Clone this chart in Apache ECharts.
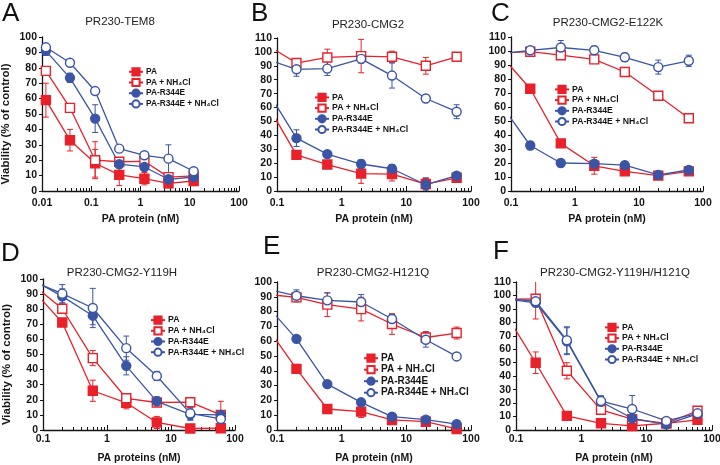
<!DOCTYPE html>
<html><head><meta charset="utf-8">
<script src="https://cdn.jsdelivr.net/npm/echarts@6/dist/echarts.min.js"></script>
<style>html,body{margin:0;padding:0;background:#fff}#c{width:720px;height:465px}</style>
</head><body><div id="c"></div>
<script>
const FONT = '"Liberation Sans", Arial, sans-serif';
const RED = '#E8212B', BLUE = '#3A55A5', INK = '#151515';

// ---- labels ----
const seriesNames = ['PA', 'PA + NH₄Cl', 'PA-R344E', 'PA-R344E + NH₄Cl'];
const panelLetters = ['A', 'B', 'C', 'D', 'E', 'F'];
const panelTitles = ['PR230-TEM8', 'PR230-CMG2', 'PR230-CMG2-E122K', 'PR230-CMG2-Y119H', 'PR230-CMG2-H121Q', 'PR230-CMG2-Y119H/H121Q'];
const xAxisNames = ['PA protein (nM)', 'PA protein (nM)', 'PA protein (nM)', 'PA proteins (nM)', 'PA protein (nM)', 'PA protein (nM)'];
const yAxisName = 'Viability (% of control)';
const xMins = [0.01, 0.1, 0.1, 0.1, 0.1, 0.1];
const xMax = 100;
const yMaxes = [100, 110, 110, 100, 100, 110];
const minorTickValues = [0.02,0.03,0.04,0.05,0.06,0.07,0.08,0.09,0.2,0.3,0.4,0.5,0.6,0.7,0.8,0.9,2,3,4,5,6,7,8,9,20,30,40,50,60,70,80,90];

// ---- concentrations (nM) ----
const concA = [0.012, 0.037, 0.12, 0.37, 1.2, 3.7, 12];
const concBF = [0.067, 0.2, 0.6, 2, 6, 20, 60];

// ---- A: PR230-TEM8 ----
const A_PA = [59, 33, 18, 10.5, 8, 5, 6.5];            const A_PA_err = [11, 7, 9, 7, 4, 3, 3];
const A_PANH = [78, 54, 20, 19, 19.3, 9, 9.8];          const A_PANH_err = [2, 2, 12, 2, 2, 2, 1];
const A_R = [91, 73.5, 47, 17.4, 15.6, 7.6, 9.1];       const A_R_err = [3, 3, 9, 2, 2, 2, 2];
const A_RNH = [93.3, 83.3, 64.9, 27.5, 23.2, 21, 12.8]; const A_RNH_err = [1, 1, 1, 2, 1, 9, 1];
// ---- B: PR230-CMG2 ----
const B_PA = [64, 26, 19, 12.5, 12.2, 5, 9.5];          const B_PA_err = [0, 3, 2, 7, 5, 4, 1];
const B_PANH = [105.5, 92, 96, 97, 96.5, 90, 96.5];     const B_PANH_err = [0, 3, 6, 12, 4, 6, 2];
const B_R = [73.7, 38, 26.5, 19.4, 16, 4.5, 11];        const B_R_err = [0, 6, 2, 3, 3, 5, 1];
const B_RNH = [95, 87.5, 88, 95, 83, 66.5, 57];         const B_RNH_err = [0, 5, 5, 3, 9, 2, 5];
// ---- C: PR230-CMG2-E122K ----
const C_PA = [97.7, 73, 34, 18, 14, 11, 14];            const C_PA_err = [0, 2, 1, 6, 2, 1, 1];
const C_PANH = [98.5, 99.5, 97, 94, 85, 68, 52];        const C_PANH_err = [0, 1, 1, 2, 1, 2, 1];
const C_R = [63, 32.5, 20, 19.5, 18.5, 11.5, 15];       const C_R_err = [0, 3, 2, 2, 2, 1, 1];
const C_RNH = [98, 100.5, 102.5, 100.5, 95.5, 88.5, 93]; const C_RNH_err = [0, 2, 5, 3, 3, 5, 4];
// ---- D: PR230-CMG2-Y119H ----
const D_PA = [93.4, 71.2, 26, 18, 5, 1, 1.2];           const D_PA_err = [0, 2, 7, 4, 4, 0.5, 1];
const D_PANH = [96.8, 80.3, 47.6, 21, 18.2, 18.4, 10];  const D_PANH_err = [0, 2, 5, 1, 2, 1, 9];
const D_R = [99.7, 88.5, 75.7, 42.5, 19, 10.4, 10];     const D_R_err = [0, 5, 6, 6, 3, 4, 2];
const D_RNH = [98.7, 90.3, 80.8, 54.2, 35.8, 11, 7.3];  const D_RNH_err = [0, 6, 13, 8, 3, 4, 3];
// ---- E: PR230-CMG2-H121Q ----
const E_PA = [70.7, 41.3, 14.2, 12.4, 6.8, 5.6, 0.7];   const E_PA_err = [0, 3, 1, 4, 1, 1, 1];
const E_PANH = [91.8, 89.6, 84.7, 81.7, 71.6, 62.5, 65.5]; const E_PANH_err = [0, 3, 8, 8, 7, 4, 4];
const E_R = [84.9, 61.6, 31, 18.7, 9, 7, 4];            const E_R_err = [0, 1, 1, 1, 1, 1, 2];
const E_RNH = [95.4, 90.7, 87.6, 86.5, 75, 61, 49.7];   const E_RNH_err = [0, 4, 5, 5, 3, 5, 1];
// ---- F: PR230-CMG2-Y119H/H121Q ----
const F_PA = [87.6, 50, 10.5, 5, 3, 5, 7.5];            const F_PA_err = [0, 8, 3, 1, 1, 1, 1];
const F_PANH = [97, 97.5, 44, 15, 8, 5, 14.3];          const F_PANH_err = [0, 15, 6, 1, 1, 1, 2];
const F_R = [97.5, 94.5, 66, 21, 8.7, 4.2, 12];         const F_R_err = [0, 1, 10, 4, 1, 1, 1];
const F_RNH = [97.7, 95.7, 66.7, 21.5, 15.6, 6.7, 12.4]; const F_RNH_err = [0, 1, 10, 4, 10, 1, 1];

const panels = [
  { conc: concA,  sets: [[A_PA, A_PA_err], [A_PANH, A_PANH_err], [A_R, A_R_err], [A_RNH, A_RNH_err]] },
  { conc: concBF, sets: [[B_PA, B_PA_err], [B_PANH, B_PANH_err], [B_R, B_R_err], [B_RNH, B_RNH_err]] },
  { conc: concBF, sets: [[C_PA, C_PA_err], [C_PANH, C_PANH_err], [C_R, C_R_err], [C_RNH, C_RNH_err]] },
  { conc: concBF, sets: [[D_PA, D_PA_err], [D_PANH, D_PANH_err], [D_R, D_R_err], [D_RNH, D_RNH_err]] },
  { conc: concBF, sets: [[E_PA, E_PA_err], [E_PANH, E_PANH_err], [E_R, E_R_err], [E_RNH, E_RNH_err]] },
  { conc: concBF, sets: [[F_PA, F_PA_err], [F_PANH, F_PANH_err], [F_R, F_R_err], [F_RNH, F_RNH_err]] }
];

// ---- layout / style ----
const grids = [
  { left: 42,  top: 37,  width: 197, height: 154 },
  { left: 277, top: 38,  width: 194, height: 153 },
  { left: 511, top: 37,  width: 192, height: 154 },
  { left: 43,  top: 279, width: 192, height: 151 },
  { left: 277, top: 282, width: 194, height: 148 },
  { left: 516, top: 282, width: 196, height: 148 }
];
const legendPos = [[128, 67.2], [314, 92.8], [554, 84.8], [150, 315.5], [363, 353.2], [604, 322.8]];
const legendFont = [8.3, 8.7, 8.7, 8.7, 10, 8.7];
const titlePos = [[120, 22], [368, 25], [608, 23], [122, 273], [373, 273], [615, 273]];
const letterPos = [[2, 1], [251, 1], [491, 1], [1, 241], [263, 234], [493, 239]];
const xLabelMargin = [7, 7, 7, 4, 4, 4];

const seriesStyles = [
  { symbol: 'rect',   color: RED,  fill: RED },
  { symbol: 'rect',   color: RED,  fill: '#ffffff' },
  { symbol: 'circle', color: BLUE, fill: BLUE },
  { symbol: 'circle', color: BLUE, fill: '#ffffff' }
];

function errRenderer(color) {
  return function (params, api) {
    const x = api.value(0), y = api.value(1), e = api.value(2);
    if (!e) return null;
    const hi = api.coord([x, y + e]);
    const lo = api.coord([x, Math.max(y - e, 0)]);
    const cap = 3;
    const st = { stroke: color, lineWidth: 1 };
    return { type: 'group', children: [
      { type: 'line', shape: { x1: hi[0], y1: hi[1], x2: lo[0], y2: lo[1] }, style: st },
      { type: 'line', shape: { x1: hi[0] - cap, y1: hi[1], x2: hi[0] + cap, y2: hi[1] }, style: st },
      { type: 'line', shape: { x1: lo[0] - cap, y1: lo[1], x2: lo[0] + cap, y2: lo[1] }, style: st }
    ]};
  };
}

const option = {
  animation: false,
  backgroundColor: '#ffffff',
  textStyle: { fontFamily: FONT },
  grid: grids.map(g => Object.assign({ containLabel: false, outerBoundsMode: 'none' }, g)),
  xAxis: [], yAxis: [], series: [], legend: [], graphic: []
};

panels.forEach((p, i) => {
  const xmin = xMins[i];
  option.xAxis.push({
    type: 'log', logBase: 10, gridIndex: i, min: xmin, max: xMax, position: 'bottom',
    axisLine: { show: true, onZero: false, lineStyle: { color: INK, width: 1.3 } },
    axisTick: { show: true, inside: true, length: 5, lineStyle: { color: INK, width: 1 } },
    axisLabel: { margin: xLabelMargin[i], fontFamily: FONT, fontWeight: 'bold', fontSize: 10.5, color: INK,
                 formatter: v => String(+v.toPrecision(3)) },
    splitLine: { show: false },
    name: xAxisNames[i], nameLocation: 'middle', nameGap: 23,
    nameTextStyle: { fontFamily: FONT, fontWeight: 'bold', fontSize: 10.5, color: INK }
  });
  option.xAxis.push({
    type: 'value', gridIndex: i, min: Math.log10(xmin), max: Math.log10(xMax), position: 'bottom',
    axisLine: { show: false, onZero: false },
    axisTick: { show: true, inside: true, length: 3, lineStyle: { color: INK, width: 1 },
                customValues: minorTickValues.filter(v => v > xmin && v < xMax).map(v => Math.log10(v)) },
    axisLabel: { show: false }, splitLine: { show: false }
  });
  const y = {
    type: 'value', gridIndex: i, min: 0, max: yMaxes[i], interval: 10, position: 'left',
    axisLine: { show: true, onZero: false, lineStyle: { color: INK, width: 1.3 } },
    axisTick: { show: true, inside: false, length: 3, lineStyle: { color: INK, width: 1 } },
    axisLabel: { margin: 5, fontFamily: FONT, fontWeight: 'bold', fontSize: 10.5, color: INK },
    splitLine: { show: false }
  };
  if (i === 0 || i === 3) {
    y.name = yAxisName; y.nameLocation = 'middle'; y.nameGap = 30;
    y.nameTextStyle = { fontFamily: FONT, fontWeight: 'bold', fontSize: 11.5, color: INK, padding: [0, 20, 0, 0] };
  }
  option.yAxis.push(y);

  p.sets.forEach((s, k) => {
    const st = seriesStyles[k];
    option.series.push({
      type: 'custom', xAxisIndex: 2 * i, yAxisIndex: i, z: 2, silent: true, clip: true,
      itemStyle: { color: st.color },
      data: p.conc.map((c, j) => [c, s[0][j], s[1][j]]),
      renderItem: errRenderer(st.color)
    });
  });
  p.sets.forEach((s, k) => {
    const st = seriesStyles[k];
    option.series.push({
      type: 'line', name: seriesNames[k], xAxisIndex: 2 * i, yAxisIndex: i, z: 3, clip: true,
      symbol: st.symbol, symbolSize: 9, showAllSymbol: true,
      lineStyle: { color: st.color, width: 1.3 },
      itemStyle: { color: st.fill, borderColor: st.color, borderWidth: 1.4 },
      emphasis: { disabled: true },
      data: p.conc.map((c, j) => [c, s[0][j]])
    });
  });

  option.legend.push({
    left: legendPos[i][0], top: legendPos[i][1], orient: 'vertical', padding: 0,
    itemGap: 1.5, itemWidth: 14, itemHeight: 9, selectedMode: false,
    textStyle: { fontFamily: FONT, fontWeight: 'bold', fontSize: legendFont[i], lineHeight: 9, color: INK, padding: [0, 0, 0, -2] },
    data: seriesNames
  });

  option.graphic.push({
    type: 'text', x: titlePos[i][0], y: titlePos[i][1], silent: true,
    style: { text: panelTitles[i], font: '11.5px ' + FONT, fill: '#222', align: 'center', verticalAlign: 'middle' }
  });
  option.graphic.push({
    type: 'text', x: letterPos[i][0], y: letterPos[i][1], silent: true,
    style: { text: panelLetters[i], font: '26px ' + FONT, fill: '#111', align: 'left', verticalAlign: 'top' }
  });
});

const chart = echarts.init(document.getElementById('c'), null, { renderer: 'canvas' });
chart.setOption(option);
</script>
</body></html>
